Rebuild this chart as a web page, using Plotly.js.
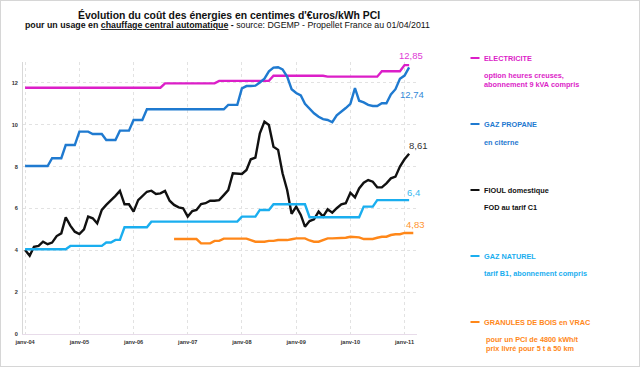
<!DOCTYPE html>
<html><head><meta charset="utf-8">
<script src="https://cdn.plot.ly/plotly-3.0.1.min.js"></script>
<style>html,body{margin:0;padding:0;background:#fff;}#frame{position:absolute;left:0;top:0;width:640px;height:367px;box-sizing:border-box;border:1px solid #d6d6d6;pointer-events:none;}</style>
</head><body>
<div id="chart" style="width:640px;height:367px;"></div>
<div id="frame"></div>
<script>
// Monthly series, index 0 = janv-04
const startMonthAll = 0;      // janv-04
const startMonthBois = 33;    // oct-06

const electricite = [
 11.77,11.77,11.77,11.77,11.77,11.77,11.77,11.77,11.77,11.77,11.77,11.77,
 11.77,11.77,11.77,11.77,11.77,11.77,11.77,11.77,11.77,11.77,11.77,11.77,
 11.77,11.77,11.77,11.77,11.77,11.77,11.77,11.98,11.98,11.98,11.98,11.98,
 11.98,11.98,11.98,11.98,11.98,11.98,11.98,12.10,12.10,12.10,12.10,12.10,
 12.10,12.10,12.10,12.10,12.10,12.10,12.10,12.34,12.34,12.34,12.34,12.34,
 12.34,12.34,12.34,12.34,12.34,12.34,12.34,12.30,12.30,12.30,12.30,12.30,
 12.30,12.30,12.30,12.30,12.30,12.30,12.30,12.56,12.56,12.56,12.56,12.56,
 12.85,12.85];

const propane = [
 8.03,8.03,8.03,8.03,8.03,8.03,8.40,8.40,8.40,9.03,9.03,9.03,
 9.67,9.67,9.67,9.56,9.56,9.56,9.27,9.27,9.27,9.72,9.72,9.72,
 10.23,10.23,10.23,10.74,10.74,10.74,10.74,10.74,10.74,10.74,10.74,10.74,
 10.74,10.74,10.74,10.74,10.74,10.74,10.74,10.74,10.74,10.95,10.95,10.95,
 11.74,11.85,11.85,11.87,12.02,12.20,12.55,12.73,12.75,12.65,12.30,11.70,
 11.52,11.40,11.00,10.75,10.55,10.38,10.27,10.23,10.12,10.45,10.62,10.80,
 11.00,11.75,11.15,11.07,10.95,10.90,10.90,11.03,11.03,11.45,11.70,12.20,
 12.35,12.74];

const fioul = [
 4.02,3.74,4.17,4.21,4.41,4.29,4.37,4.68,4.81,5.58,5.18,4.89,
 4.78,5.00,5.61,5.53,5.29,5.93,6.17,6.37,6.60,6.84,6.20,6.20,
 5.85,6.40,6.61,6.80,6.85,6.69,6.72,6.84,6.37,6.17,6.05,6.01,
 5.61,5.88,5.93,6.21,6.25,6.37,6.37,6.40,6.64,6.88,7.68,7.68,
 7.65,7.84,8.35,8.43,9.59,10.15,9.99,8.95,8.80,7.68,6.88,5.74,
 6.09,5.69,5.13,5.40,5.48,5.85,5.61,5.96,5.80,6.01,6.20,6.25,
 6.75,6.53,6.96,7.23,7.36,7.28,7.01,7.01,7.20,7.44,7.52,8.00,
 8.35,8.61];

const gazNaturel = [
 4.05,4.05,4.05,4.05,4.05,4.05,4.05,4.05,4.05,4.05,4.21,4.21,
 4.21,4.21,4.21,4.21,4.21,4.21,4.37,4.37,4.50,4.50,5.10,5.10,
 5.10,5.10,5.10,5.10,5.37,5.37,5.37,5.37,5.37,5.37,5.37,5.37,
 5.37,5.37,5.37,5.37,5.37,5.37,5.37,5.37,5.37,5.37,5.37,5.37,
 5.61,5.61,5.61,5.61,5.93,5.93,5.93,6.20,6.20,6.20,6.20,6.20,
 6.20,6.20,6.20,5.58,5.58,5.58,5.58,5.58,5.58,5.58,5.58,5.58,
 5.58,5.58,5.58,6.09,6.09,6.09,6.40,6.40,6.40,6.40,6.40,6.40,
 6.40,6.40];

const bois = [
 4.54,4.54,4.54,4.54,4.54,4.54,4.33,4.33,4.33,4.45,4.45,4.56,
 4.56,4.56,4.56,4.56,4.56,4.49,4.41,4.41,4.41,4.45,4.45,4.49,
 4.49,4.49,4.53,4.57,4.57,4.57,4.47,4.41,4.41,4.50,4.57,4.57,
 4.57,4.60,4.60,4.65,4.65,4.62,4.54,4.54,4.54,4.60,4.65,4.65,
 4.73,4.77,4.77,4.83,4.83,4.83];

const endLabels = ["12,85","12,74","8,61","6,4","4,83"];
const xTickVals = ["2004-01-01","2005-01-01","2006-01-01","2007-01-01","2008-01-01","2009-01-01","2010-01-01","2011-01-01"];
const xTickText = ["janv-04","janv-05","janv-06","janv-07","janv-08","janv-09","janv-10","janv-11"];
const yTickVals = [0,2,4,6,8,10,12];

const legendTitles = ["ELECTRICITE","GAZ PROPANE","FIOUL domestique","GAZ NATUREL","GRANULES DE BOIS en VRAC"];
const legendNotes = [
 ["option heures creuses,","abonnement 9 kVA compris"],
 ["en citerne"],
 ["FOD au tarif C1"],
 ["tarif B1, abonnement compris"],
 ["pour un PCI de 4800 kWh/t","prix livré pour 5 t à 50 km"]
];

const colors = ["#dc1ec8","#1f7ad0","#111111","#1aaeef","#ff8719"];
const labelColors = ["#e03ad6","#3388d6","#333333","#33b8f0","#ff9530"];

function monthDate(i){
  const y = 2004 + Math.floor(i/12);
  const m = i % 12 + 1;
  return y + "-" + (m<10?"0":"") + m + "-01";
}
function datesFor(arr, start){ return arr.map((_,k)=>monthDate(start+k)); }

const seriesVals = [electricite, propane, fioul, gazNaturel, bois];
const seriesStart = [startMonthAll,startMonthAll,startMonthAll,startMonthAll,startMonthBois];

const traces = seriesVals.map((v,i)=>({
  x: datesFor(v, seriesStart[i]), y: v, type:"scatter", mode:"lines",
  name: legendTitles[i], line:{color:colors[i], width:2.4}, hoverinfo:"skip"
}));

// label offsets relative to last point (pixels)
const lblShift = [[2,10],[3,-27],[9,8],[4,8],[2,8]];
const annotations = [];
seriesVals.forEach((v,i)=>{
  annotations.push({
    x: monthDate(seriesStart[i]+v.length-1), y: v[v.length-1], xref:"x", yref:"y",
    text: endLabels[i], showarrow:false, xanchor:"center", yanchor:"middle",
    xshift: lblShift[i][0], yshift: lblShift[i][1],
    font:{family:"Liberation Sans, Arial, sans-serif", size:9.5, color:labelColors[i]}
  });
});

// legend block (paper coords relative to plot area: l=23, width=394, bottom=334, height=272)
const W = 394, L = 23, B = 334, H = 272;
const px = p => (p - L)/W;
const py = p => (B - p)/H;
const titleRows = [58,124,190,256,322];
const noteRows = [[75,84],[142],[207],[273],[339,348]];
const noteX = [482,482,482,482,484];
const shapes = [];
legendTitles.forEach((t,i)=>{
  annotations.push({x:px(482), y:py(titleRows[i]), xref:"paper", yref:"paper", text:"<b>"+t+"</b>",
    showarrow:false, xanchor:"left", yanchor:"middle",
    font:{family:"Liberation Sans, Arial, sans-serif", size:7.3, color:colors[i]}});
  shapes.push({type:"line", xref:"paper", yref:"paper", x0:px(470.5), x1:px(479.5), y0:py(titleRows[i]), y1:py(titleRows[i]),
    line:{color:colors[i], width:2}});
  legendNotes[i].forEach((n,j)=>{
    annotations.push({x:px(noteX[i]), y:py(noteRows[i][j]), xref:"paper", yref:"paper", text:"<b>"+n+"</b>",
      showarrow:false, xanchor:"left", yanchor:"middle",
      font:{family:"Liberation Sans, Arial, sans-serif", size:7.3, color:colors[i]}});
  });
});

// titles
annotations.push({x:px(228.5), y:py(15), xref:"paper", yref:"paper", showarrow:false, xanchor:"center", yanchor:"middle",
  text:"<b>Évolution du coût des énergies en centimes d'€uros/kWh PCI</b>",
  font:{family:"Liberation Sans, Arial, sans-serif", size:10.4, color:"#111"}});
annotations.push({x:px(227.5), y:py(25.5), xref:"paper", yref:"paper", showarrow:false, xanchor:"center", yanchor:"middle",
  text:"<b>pour un usage en <u>chauffage central automatique</u> -</b> source: DGEMP - Propellet France au 01/04/2011",
  font:{family:"Liberation Sans, Arial, sans-serif", size:8.8, color:"#111"}});

const layout = {
  width:640, height:367,
  margin:{l:L, r:640-L-W, t:62, b:33, pad:0},
  paper_bgcolor:"#fff", plot_bgcolor:"#fff",
  showlegend:false,
  xaxis:{type:"date", range:["2003-12-18","2011-03-26"], tickvals:xTickVals, ticktext:xTickText,
    tickfont:{family:"Liberation Sans, Arial, sans-serif", size:5.6, color:"#333", weight:"bold"},
    showgrid:true, gridcolor:"#e2e2e2", griddash:"dot", gridwidth:1,
    showline:true, linecolor:"#e8dcea", linewidth:1, ticks:"", zeroline:false, ticklabelstandoff:2},
  yaxis:{range:[0,13], tickvals:yTickVals, ticktext:yTickVals.map(String),
    tickfont:{family:"Liberation Sans, Arial, sans-serif", size:5.6, color:"#333", weight:"bold"},
    showgrid:true, gridcolor:"#e2e2e2", griddash:"dot", gridwidth:1,
    showline:true, linecolor:"#d8d8d8", linewidth:1, ticks:"", zeroline:false, ticklabelstandoff:3},
  annotations: annotations,
  shapes: shapes
};
Plotly.newPlot("chart", traces, layout, {staticPlot:true, displayModeBar:false});
</script>
</body></html>
